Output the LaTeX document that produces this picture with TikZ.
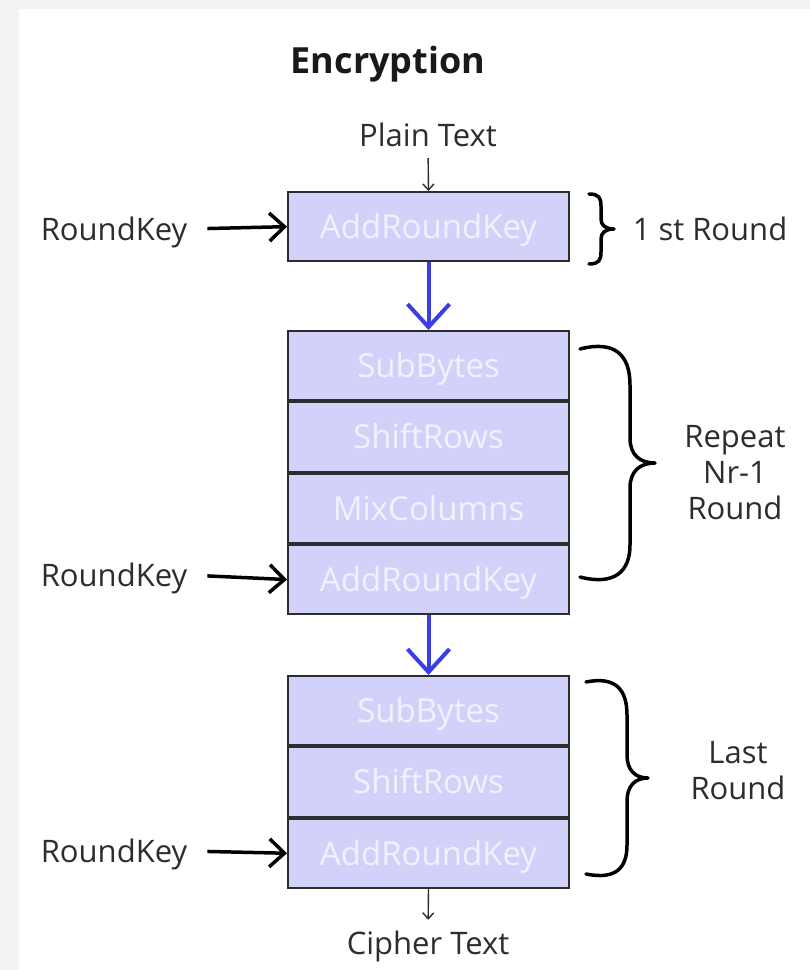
\documentclass[tikz,border=0pt]{standalone}
\usepackage{fontspec}
\setmainfont{Open Sans}
\usetikzlibrary{arrows.meta}
\definecolor{boxfill}{RGB}{209,209,250}
\definecolor{boxtext}{RGB}{242,242,255}
\definecolor{flowblue}{RGB}{58,62,232}
\definecolor{ink}{RGB}{45,45,45}
\definecolor{bggray}{RGB}{243,243,243}
\begin{document}
\begin{tikzpicture}[x=1pt,y=-1pt,
  stage/.style={draw=ink, line width=2pt, fill=boxfill, text=boxtext,
    minimum width=281pt, minimum height=69.3pt, inner sep=0pt,
    font=\fontsize{33}{38}\selectfont, text height=23.5pt, text depth=0pt, anchor=north},
  lbl/.style={text=ink, inner sep=0pt, font=\fontsize{31}{36}\selectfont,
    text height=22pt, text depth=0pt},
  multi/.style={text=ink, inner sep=0pt, font=\fontsize{31}{36}\selectfont, align=center},
  keyarrow/.style={draw=black, line width=3.5pt, shorten <=20pt,
    -{Straight Barb[length=15pt,width=28pt]}},
  flow/.style={draw=flowblue, line width=4pt, -{Straight Barb[length=23pt,width=42pt]}},
  smallarrow/.style={draw=ink, line width=1.4pt, -{Straight Barb[length=6pt,width=11pt]}},
  brace/.style={draw=black, line width=3.5pt, line cap=round, line join=round}
]
\useasboundingbox (0,0) rectangle (810,970);
\fill[bggray] (0,0) rectangle (810,970);
\fill[white] (19,9) rectangle (810,970);

% title
\node[text=black!90, inner sep=0pt, font=\fontsize{36}{40}\selectfont\bfseries,
  text height=26pt, text depth=0pt] (title) at (388,60) {Encryption};

% first round
\node[lbl] (plain) at (428,135) {Plain Text};
\node[stage] (b1) at (428.5,191) {AddRoundKey};
\node[lbl] (rk1) at (114,229) {RoundKey};
\node[lbl] (first) at (710,229) {1 st Round};

% middle rounds
\node[stage] (r2a) at (428.5,330) {SubBytes};
\node[stage] (r2b) at (r2a.south) {ShiftRows};
\node[stage] (r2c) at (r2b.south) {MixColumns};
\node[stage] (r2d) at (r2c.south) {AddRoundKey};
\node[lbl] (rk2) at (114,575) {RoundKey};
\node[multi] (rep) at (735,473) {Repeat\\Nr-1\\Round};

% last round
\node[stage] (r3a) at (428.5,675) {SubBytes};
\node[stage] (r3b) at (r3a.south) {ShiftRows};
\node[stage] (r3c) at (r3b.south) {AddRoundKey};
\node[lbl] (rk3) at (114,851) {RoundKey};
\node[multi] (last) at (738,771) {Last\\Round};
\node[lbl] (cipher) at (428,943) {Cipher Text};

% connectors
\draw[smallarrow, shorten <=12pt] (plain.south) -- (b1.north);
\draw[keyarrow] (rk1.east) -- (b1.west);
\draw[flow] (b1.south) -- (r2a.north);
\draw[keyarrow] (rk2.east) -- (r2d.west);
\draw[flow] (r2d.south) -- (r3a.north);
\draw[keyarrow] (rk3.east) -- (r3c.west);
\draw[smallarrow, shorten >=12pt] (r3c.south) -- (cipher.north);

% braces
\draw[brace] (589,194) .. controls (599,194) and (601,198) .. (601,206) -- (601,219)
  .. controls (601,225) and (605,229) .. (614,229)
  .. controls (605,229) and (601,233) .. (601,239) -- (601,252)
  .. controls (601,260) and (599,264) .. (589,264);
\draw[brace] (580,349) .. controls (615,340) and (630,355) .. (630,385) -- (630,438)
  .. controls (630,455) and (640,463) .. (655,463)
  .. controls (640,463) and (630,471) .. (630,488) -- (630,545)
  .. controls (630,571) and (615,586) .. (580,577);
\draw[brace] (586,682) .. controls (616,676) and (627,690) .. (627,715) -- (627,755)
  .. controls (627,770) and (635,778) .. (648,778)
  .. controls (635,778) and (627,786) .. (627,801) -- (627,845)
  .. controls (627,868) and (616,880) .. (586,874);
\end{tikzpicture}
\end{document}
